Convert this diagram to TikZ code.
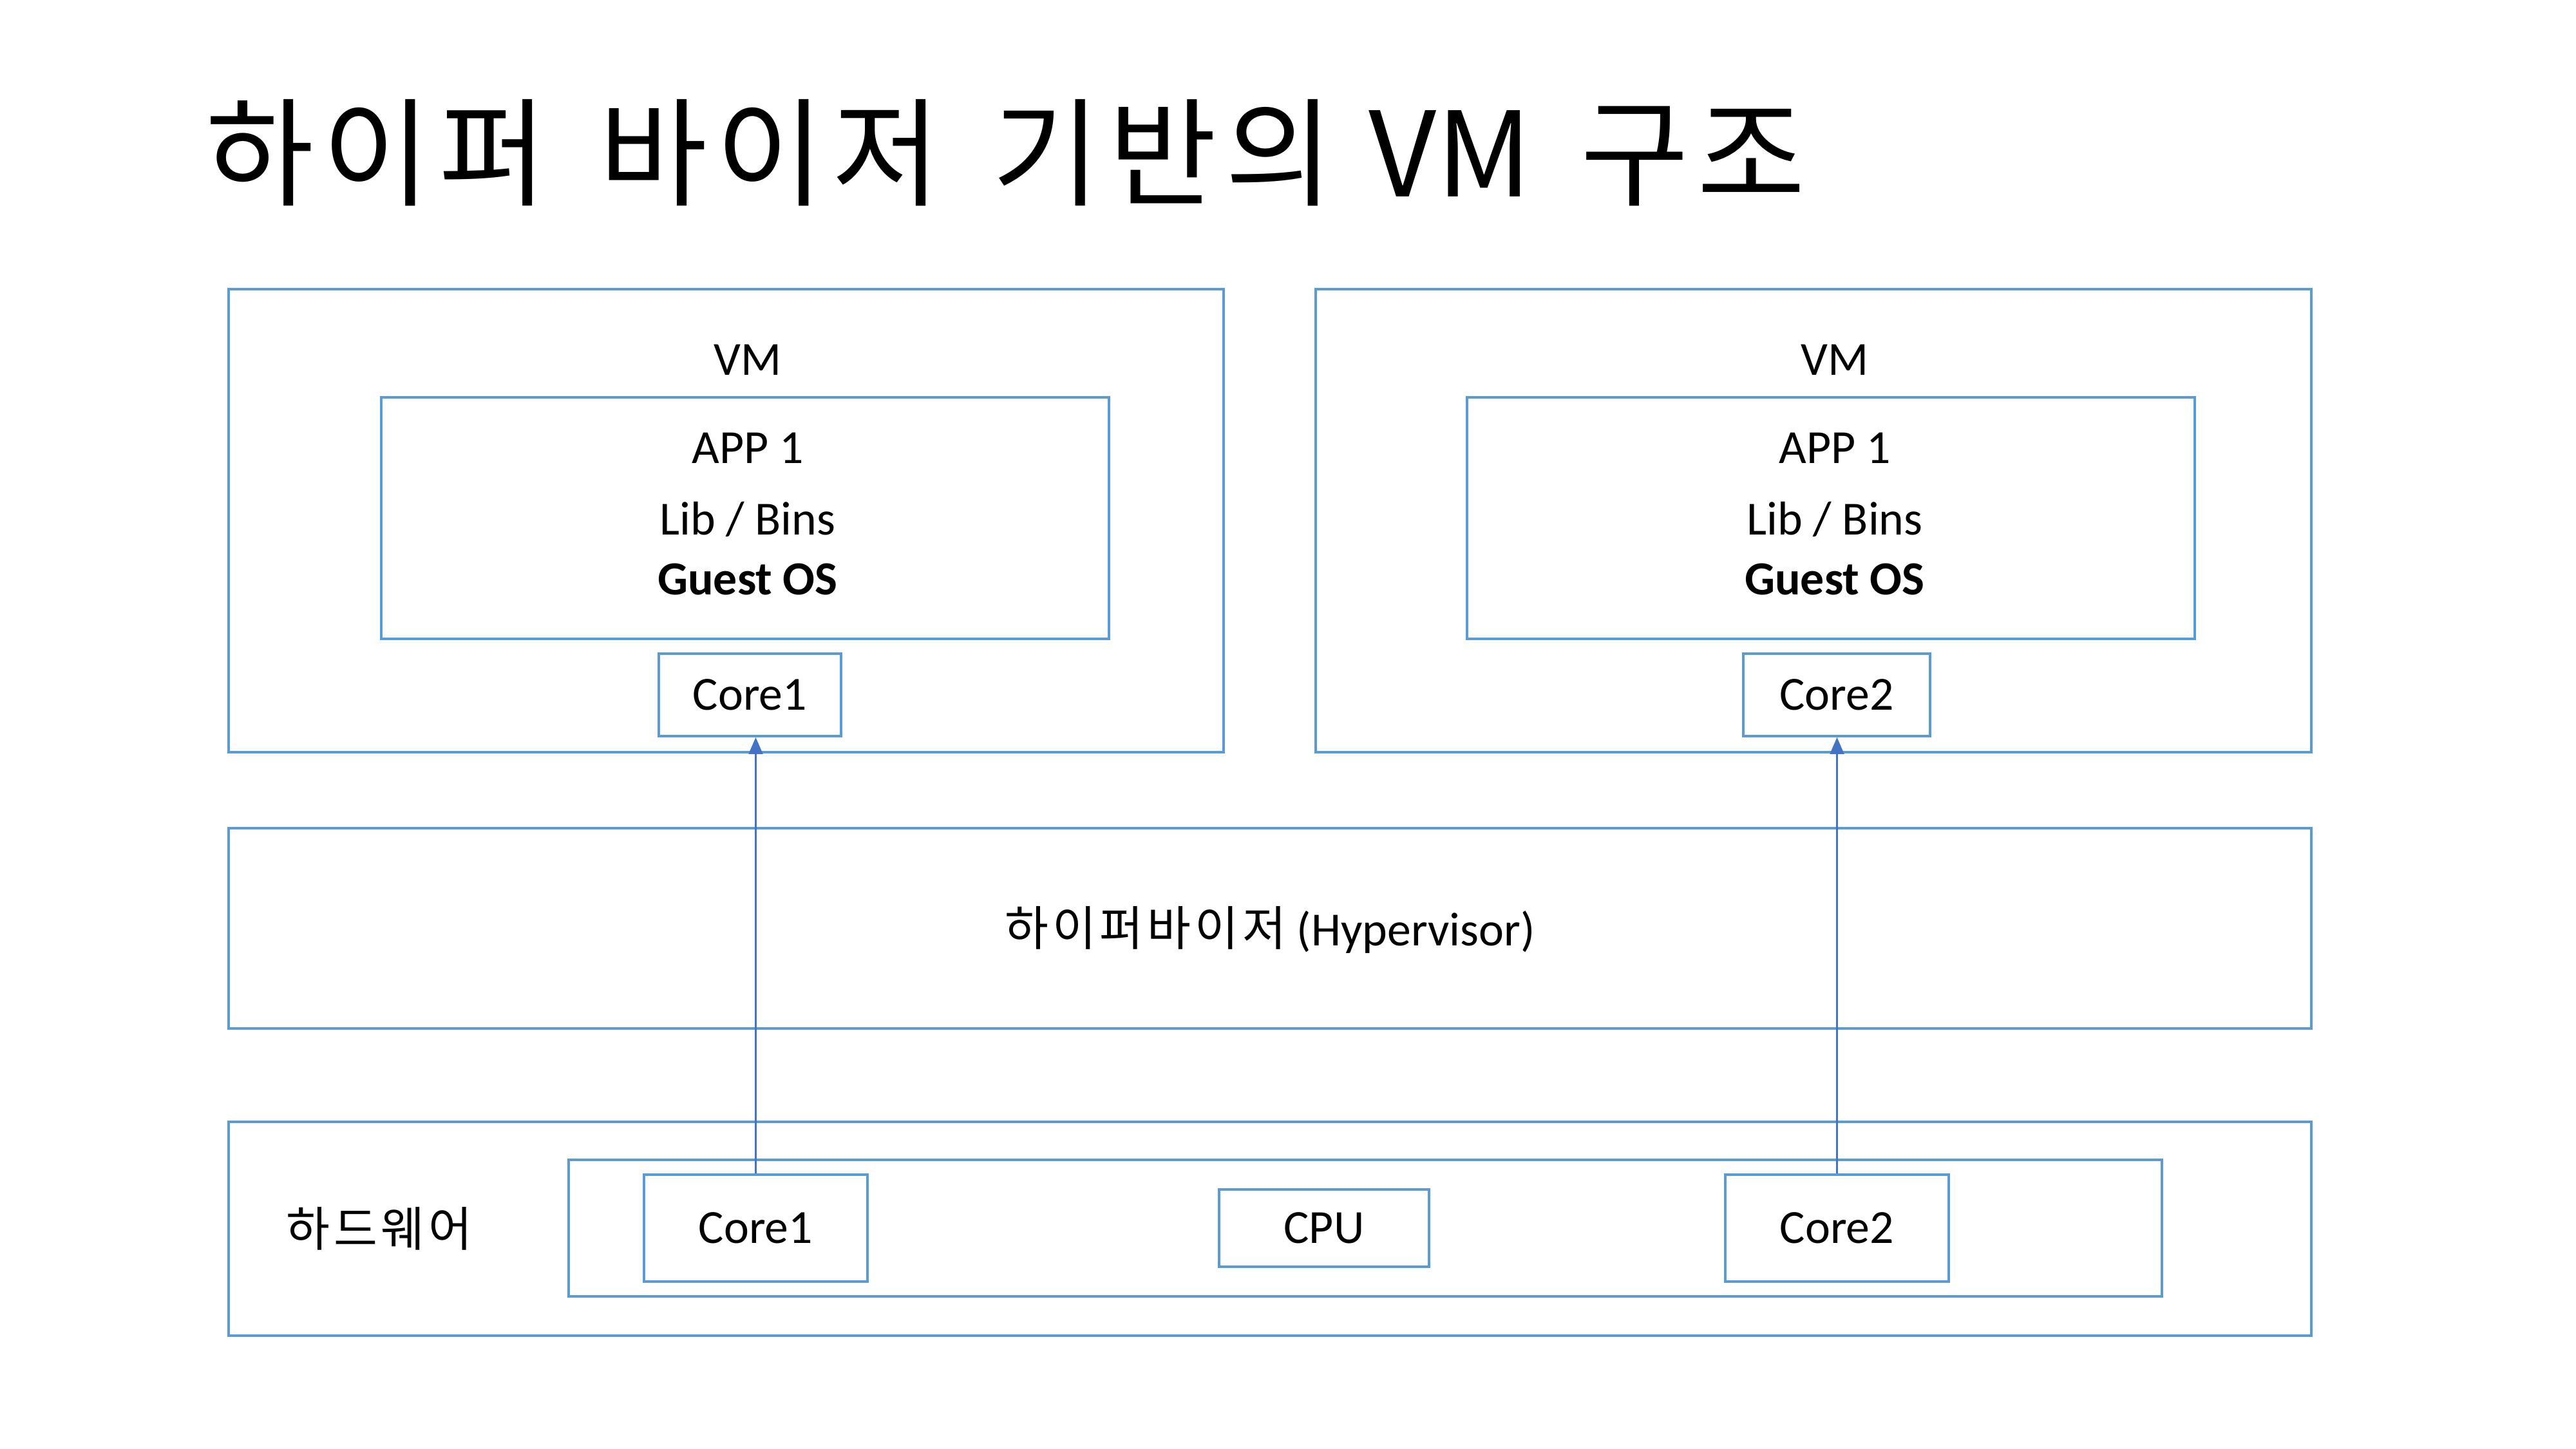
\documentclass[tikz,border=0pt]{standalone}
\usepackage{fontspec}
\setmainfont{Carlito}
\newfontfamily\kofont[LetterSpace=8]{Noto Sans CJK KR}
\newfontfamily\titlefont[LetterSpace=7,WordSpace=1.5]{Noto Sans CJK KR}
\newfontfamily\vmfont{Noto Sans CJK KR}
\usetikzlibrary{arrows.meta}
\definecolor{boxblue}{HTML}{5B9BD5}
\definecolor{arrowblue}{HTML}{4472C4}
\tikzset{
  box/.style={draw=boxblue, line width=1.1pt, inner sep=0pt},
  lbl/.style={font=\fontsize{21}{25}\selectfont, inner sep=0pt},
  link/.style={arrowblue, line width=0.6pt, -{Triangle[length=0.26cm,width=0.22cm]}}
}
\begin{document}
\begin{tikzpicture}
  \useasboundingbox (0,0) rectangle (40,-22.5);

  % Title
  \node[anchor=base west, inner sep=0pt, font=\titlefont\fontsize{52}{60}\selectfont] (title) at (3.19,-3.06)
    {하이퍼 바이저 기반의\hspace{0.55cm}{\vmfont VM}\hspace{0.75cm}구조};

  % VMs
  \node[box, minimum width=15.45cm, minimum height=7.19cm] (vm1) at (11.275,-8.085) {};
  \node[box, minimum width=15.46cm, minimum height=7.19cm] (vm2) at (28.16,-8.085) {};
  \node[box, minimum width=11.3cm, minimum height=3.75cm] (guest1) at (11.57,-8.045) {};
  \node[box, minimum width=11.3cm, minimum height=3.75cm] (guest2) at (28.43,-8.045) {};
  \node[box, lbl, minimum width=2.83cm, minimum height=1.28cm] (vcore1) at (11.645,-10.79) {Core1};
  \node[box, lbl, minimum width=2.9cm, minimum height=1.28cm] (vcore2) at (28.52,-10.79) {Core2};
  \foreach \i/\x in {1/11.61, 2/28.49} {
    \node[lbl] (vmtext\i) at (\x,-5.59) {VM};
    \node[lbl] (app\i) at (\x,-6.96) {APP 1};
    \node[lbl] (lib\i) at (\x,-8.06) {Lib / Bins};
    \node[lbl, font=\fontsize{21}{25}\selectfont\bfseries] (os\i) at (\x,-9.0) {Guest OS};
  }

  % Hypervisor
  \node[box, minimum width=32.34cm, minimum height=3.11cm] (hyp) at (19.72,-14.415) {};
  \node[lbl] (hyptext) at (19.72,-14.44) {{\kofont 하이퍼바이저} (Hypervisor)};

  % Hardware
  \node[box, minimum width=32.34cm, minimum height=3.32cm] (hw) at (19.72,-19.08) {};
  \node[lbl, font=\kofont\fontsize{21}{25}\selectfont] (hwtext) at (5.89,-19.08) {하드웨어};
  \node[box, minimum width=24.74cm, minimum height=2.12cm] (cpugrp) at (21.2,-19.07) {};
  \node[box, lbl, minimum width=3.47cm, minimum height=1.66cm] (hcore1) at (11.735,-19.07) {Core1};
  \node[box, lbl, minimum width=3.26cm, minimum height=1.2cm] (cpu) at (20.56,-19.07) {CPU};
  \node[box, lbl, minimum width=3.47cm, minimum height=1.66cm] (hcore2) at (28.525,-19.07) {Core2};

  % Links
  \draw[link] (hcore1.north) -- (hcore1.north |- vcore1.south);
  \draw[link] (hcore2.north) -- (hcore2.north |- vcore2.south);
\end{tikzpicture}
\end{document}
